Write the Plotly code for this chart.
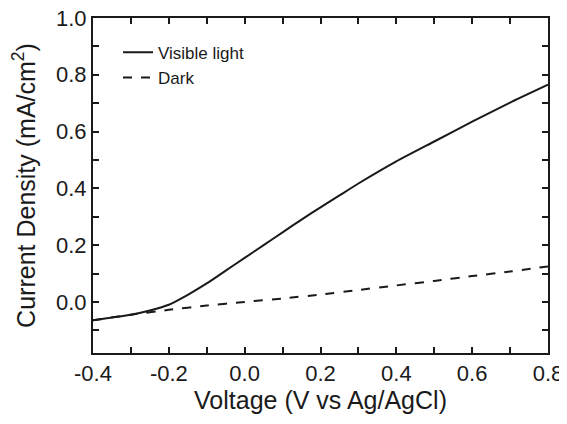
import plotly.graph_objects as go

voltage_light = [-0.4, -0.35, -0.3, -0.25, -0.2, -0.15, -0.1, -0.05, 0.0, 0.05, 0.1, 0.15, 0.2, 0.25, 0.3, 0.4, 0.5, 0.6, 0.7, 0.8]
current_light = [-0.065, -0.055, -0.045, -0.03, -0.01, 0.025, 0.065, 0.11, 0.155, 0.2, 0.245, 0.29, 0.333, 0.375, 0.417, 0.495, 0.565, 0.635, 0.702, 0.765]

voltage_dark = [-0.4, -0.3, -0.2, -0.1, 0.0, 0.1, 0.2, 0.3, 0.4, 0.5, 0.6, 0.7, 0.8]
current_dark = [-0.065, -0.045, -0.028, -0.013, 0.0, 0.012, 0.026, 0.042, 0.058, 0.074, 0.091, 0.107, 0.125]

x_ticks = [-0.4, -0.2, 0.0, 0.2, 0.4, 0.6, 0.8]
x_tick_labels = ["-0.4", "-0.2", "0.0", "0.2", "0.4", "0.6", "0.8"]
x_minor = [-0.3, -0.1, 0.1, 0.3, 0.5, 0.7]
y_ticks = [0.0, 0.2, 0.4, 0.6, 0.8, 1.0]
y_tick_labels = ["0.0", "0.2", "0.4", "0.6", "0.8", "1.0"]
y_minor = [-0.1, 0.1, 0.3, 0.5, 0.7, 0.9]

font_family = "Liberation Sans, Arial, sans-serif"
ink = "#1a1a1a"

fig = go.Figure()
fig.add_trace(go.Scatter(x=voltage_light, y=current_light, mode="lines", name="Visible light",
                         line=dict(color=ink, width=2, shape="spline", smoothing=0.5)))
fig.add_trace(go.Scatter(x=voltage_dark, y=current_dark, mode="lines", name="Dark",
                         line=dict(color=ink, width=2, dash="dash", shape="spline", smoothing=0.5)))

axis_common = dict(showline=True, linecolor=ink, linewidth=2, mirror="allticks",
                   ticks="inside", ticklen=6, tickwidth=2, tickcolor=ink,
                   showgrid=False, zeroline=False, automargin=False,
                   ticklabeloverflow="allow",
                   tickfont=dict(family=font_family, size=22, color=ink))

fig.update_xaxes(range=[-0.4, 0.8], tickmode="array", tickvals=x_ticks, ticktext=x_tick_labels,
                 minor=dict(tickmode="array", tickvals=x_minor, ticks="inside", ticklen=6, tickwidth=2, tickcolor=ink, showgrid=False),
                 title=dict(text="Voltage (V vs Ag/AgCl)", font=dict(family=font_family, size=25, color=ink), standoff=6),
                 **axis_common)
fig.update_yaxes(range=[-0.18, 1.0], tickmode="array", tickvals=y_ticks, ticktext=y_tick_labels,
                 minor=dict(tickmode="array", tickvals=y_minor, ticks="inside", ticklen=6, tickwidth=2, tickcolor=ink, showgrid=False),
                 title=dict(text="Current Density (mA/cm<sup>2</sup>)", font=dict(family=font_family, size=25, color=ink), standoff=14),
                 ticklabelstandoff=0,
                 **axis_common)

fig.update_layout(
    width=559, height=416,
    margin=dict(l=85, r=19, t=10, b=71),
    paper_bgcolor="white", plot_bgcolor="white",
    showlegend=True,
    legend=dict(x=0.055, y=0.95, xanchor="left", yanchor="top", bgcolor="rgba(0,0,0,0)",
                font=dict(family=font_family, size=17, color=ink), tracegroupgap=0),
)

fig.write_html("out.html")
